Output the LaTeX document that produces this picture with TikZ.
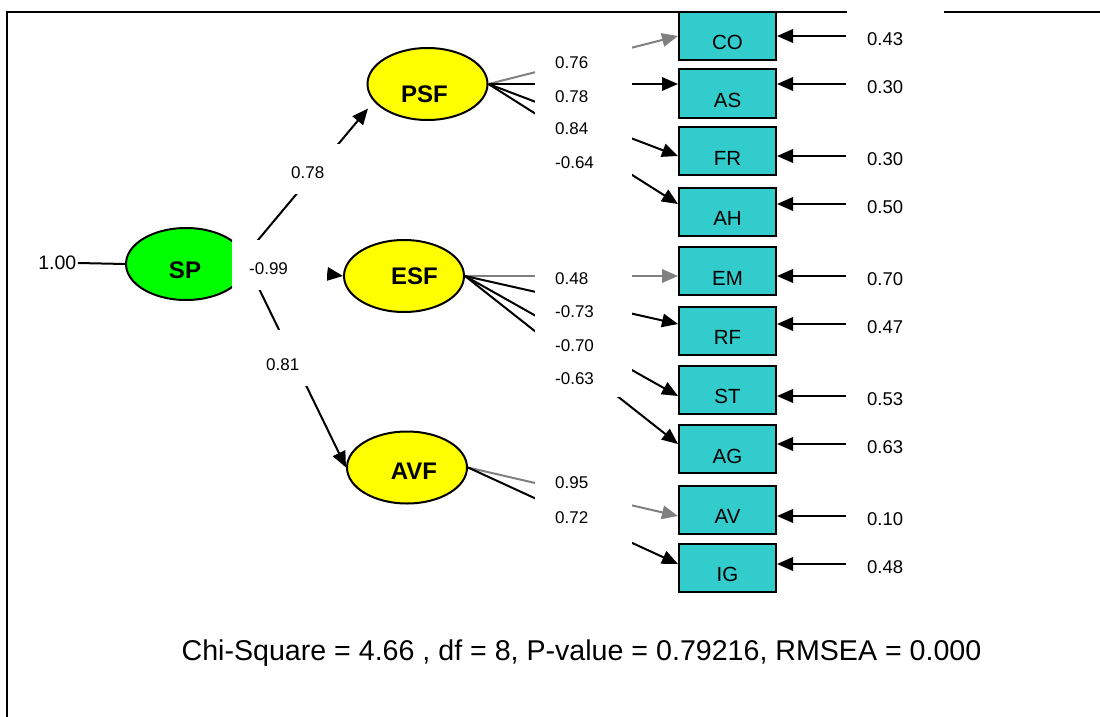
\documentclass[tikz,border=0pt]{standalone}
\usepackage{fontspec}
\setmainfont{Liberation Sans}
\usetikzlibrary{arrows.meta,shapes.geometric}
\definecolor{latentgreen}{RGB}{0,255,0}
\definecolor{latentyellow}{RGB}{255,255,0}
\definecolor{obsteal}{RGB}{51,204,204}
\definecolor{fixgray}{RGB}{128,128,128}

\begin{document}
\begin{tikzpicture}[x=1pt,y=-1pt,
  latent/.style={ellipse,draw=black,line width=2pt,minimum width=120pt,minimum height=72pt,inner sep=0pt},
  latentname/.style={font=\fontsize{24}{24}\selectfont\bfseries,inner sep=0pt},
  observed/.style={rectangle,draw=black,line width=2pt,fill=obsteal,minimum width=97pt,minimum height=48pt,
    inner sep=0pt,text height=28pt,text depth=0pt,font=\fontsize{20.5}{20.5}\selectfont},
  conn/.style={line width=2pt,-{Triangle[length=16pt,width=13.5pt]}},
  fixedconn/.style={conn,draw=fixgray},
  gap/.style={fill=white},
  coef/.style={font=\fontsize{17}{17}\selectfont,inner sep=0pt,anchor=west},
  errlab/.style={font=\fontsize{18.5}{18.5}\selectfont,fill=white,text width=57pt,inner xsep=20pt,
    inner ysep=0pt,minimum height=60pt,align=left,anchor=west},
]
\useasboundingbox (0,0) rectangle (1100,717);

% frame
\draw[line width=2pt] (7,717) -- (7,12) -- (1100,12);

% latent variables
\node[latent,fill=latentgreen,label={[latentname,name=SPt,xshift=-1pt,yshift=-6pt]center:SP}] (SP) at (186,264) {};
\node[latent,fill=latentyellow,label={[latentname,name=PSFt,xshift=-3pt,yshift=-10pt]center:PSF}] (PSF) at (427.5,84) {};
\node[latent,fill=latentyellow,label={[latentname,name=ESFt,xshift=10.5pt]center:ESF}] (ESF) at (404,276) {};
\node[latent,fill=latentyellow,label={[latentname,name=AVFt,xshift=7pt,yshift=-3.3pt]center:AVF}] (AVF) at (407,467.5) {};
\coordinate (PSFin) at (368,108.5);

% observed variables
\foreach \n/\y in {CO/36, AS/93.5, FR/151, AH/211.5, EM/271, RF/330.5, ST/389.5, AG/449, AV/509.5, IG/567.5}
  \node[observed] (\n) at (727.5,\y) {\n};

% error variances
\foreach \n/\y/\v in {CO/36/0.43, AS/84/0.30, FR/156/0.30, AH/204/0.50, EM/276/0.70,
                      RF/324/0.47, ST/396/0.53, AG/444/0.63, AV/516/0.10, IG/564/0.48} {
  \coordinate (e\n) at (846,\y);
  \node[errlab] (v\n) at ([xshift=1pt,yshift=-3.5pt]e\n) {\v};
  \draw[conn] (e\n) -- (e\n -| \n.east);
}

% variance of SP
\node[font=\fontsize{19.5}{19.5}\selectfont,inner xsep=1.5pt,inner ysep=0pt,anchor=east] (vSP) at (78,263) {1.00};
\draw[line width=2pt] (vSP.east) -- (SP.west);

% structural paths
\draw[conn] ([xshift=-9pt]SP.east) -- (PSFin);
\draw[conn] (SP.east) -- (ESF.west);
\draw[conn] (SP.east) -- (AVF.west);

% loadings
\draw[fixedconn] (PSF.east) -- (CO.west |- eCO);
\draw[conn] (PSF.east) -- (AS.west |- eAS);
\draw[conn] (PSF.east) -- (FR.west |- eFR);
\draw[conn] (PSF.east) -- (AH.west |- eAH);
\draw[fixedconn] (ESF.east) -- (EM.west |- eEM);
\draw[conn] (ESF.east) -- (RF.west |- eRF);
\draw[conn] (ESF.east) -- (ST.west |- eST);
\draw[conn] (ESF.east) -- (AG.west |- eAG);
\draw[fixedconn] (AVF.east) -- (AV.west |- eAV);
\draw[conn] (AVF.east) -- (IG.west |- eIG);

% white backgrounds behind the coefficients
\fill[gap] (535,40) rectangle (632,180);
\fill[gap] (535,255) rectangle (632,397);
\fill[gap] (535,470) rectangle (632,546);
\fill[gap] (280,144) rectangle (345,194);
\fill[gap] (232,240) rectangle (327,290);
\fill[gap] (250,330) rectangle (318,386);

% structural coefficients
\node[coef] (bPSF) at (291,172.5) {0.78};
\node[coef] (bESF) at (249,268.5) {-0.99};
\node[coef] (bAVF) at (266,364.5) {0.81};

% loading coefficients
\foreach \nm/\y/\v in {lCO/63/0.76, lAS/96.5/0.78, lFR/129/0.84, lAH/163/-0.64,
                       lEM/279/0.48, lRF/312/-0.73, lST/346/-0.70, lAG/379/-0.63,
                       lAV/483/0.95, lIG/518/0.72}
  \node[coef] (\nm) at (555,\y) {\v};

% fit statistics
\node[font=\fontsize{28.6}{28.6}\selectfont,anchor=base,inner sep=0pt] (fit) at (581.5,660)
  {Chi-Square = 4.66 , df = 8, P-value = 0.79216, RMSEA = 0.000};
\end{tikzpicture}
\end{document}
